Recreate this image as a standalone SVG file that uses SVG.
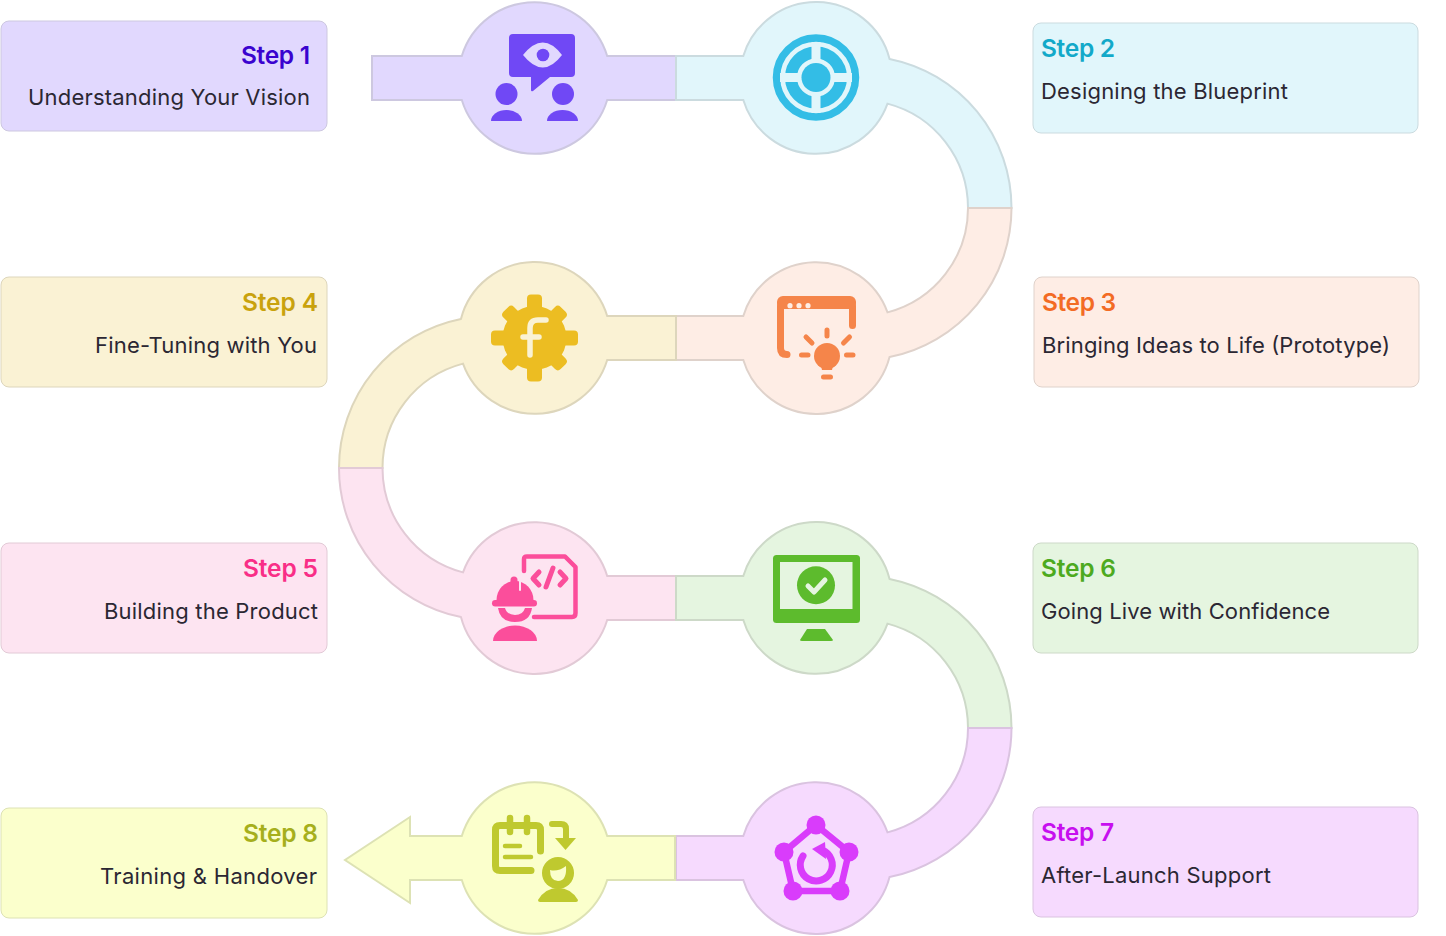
<svg xmlns="http://www.w3.org/2000/svg" width="1446" height="936" viewBox="0 0 1446 936">
<style>
.t{font-family:"Inter","Noto Sans","Liberation Sans",sans-serif;font-size:24.5px;font-weight:600}
.s{font-family:"Inter","Noto Sans","Liberation Sans",sans-serif;font-size:22px;font-weight:400;fill:#2b2733}
.band{stroke-width:2;stroke-linejoin:miter}
.card{stroke-width:1}
.ln{fill:none;stroke-linecap:round;stroke-linejoin:round}
</style>
<rect width="1446" height="936" fill="#fff"/>
<g id="connectors">
<path id="band-1" class="band" fill="#E1D8FE" stroke="#CDC8E0" d="M372,56 L461.8,56 A76,76 0 0 1 607.2,56 L676,56 L676,100 L607.2,100 A76,76 0 0 1 461.8,100 L372,100 Z"/>
<path id="band-2" class="band" fill="#E1F6FB" stroke="#CBDBDF" d="M676,56 L743.3,56 A76,76 0 0 1 889.56,58.9 A152,152 0 0 1 1011.500,208 L968,208 A108,108 0 0 0 887.5,103.6 A76,76 0 0 1 743.3,100 L676,100 Z"/>
<path id="band-3" class="band" fill="#FEEDE5" stroke="#DFD2CB" d="M676,316 L743.3,316 A76,76 0 0 1 887.5,312.4 A108,108 0 0 0 968,208 L1011.500,208 A152,152 0 0 1 889.56,357.1 A76,76 0 0 1 743.3,360 L676,360 Z"/>
<path id="band-4" class="band" fill="#FAF2D4" stroke="#DDD6BC" d="M676,316 L607.2,316 A76,76 0 0 0 460.94,318.9 A152,152 0 0 0 339,468 L382.5,468 A108,108 0 0 1 463,363.6 A76,76 0 0 0 607.2,360 L676,360 Z"/>
<path id="band-5" class="band" fill="#FDE4F1" stroke="#E2CAD6" d="M676,576 L607.2,576 A76,76 0 0 0 463,572.4 A108,108 0 0 1 382.5,468 L339,468 A152,152 0 0 0 460.94,617.1 A76,76 0 0 0 607.2,620 L676,620 Z"/>
<path id="band-6" class="band" fill="#E5F5E0" stroke="#CDD9C8" d="M676,576 L743.3,576 A76,76 0 0 1 889.56,578.9 A152,152 0 0 1 1011.500,728 L968,728 A108,108 0 0 0 887.5,623.6 A76,76 0 0 1 743.3,620 L676,620 Z"/>
<path id="band-7" class="band" fill="#F6DAFE" stroke="#DAC3E0" d="M676,836 L743.3,836 A76,76 0 0 1 887.5,832.4 A108,108 0 0 0 968,728 L1011.500,728 A152,152 0 0 1 889.56,877.1 A76,76 0 0 1 743.3,880 L676,880 Z"/>
<path id="band-8" class="band" fill="#FBFFCC" stroke="#DDE2B4" d="M675,836 L607.2,836 A76,76 0 0 0 461.8,836 L410,836 L410,817 L345,860 L410,903 L410,880 L461.8,880 A76,76 0 0 0 607.2,880 L675,880 Z"/>
</g>

<g id="step-1">
<rect class="card" x="1" y="21" width="326" height="110" rx="8" fill="#E1D8FE" stroke="#CDC8E0"/>
<text class="t" x="241" y="64" fill="#3A03CF" textLength="69">Step 1</text>
<text class="s" x="28" y="105" textLength="282">Understanding Your Vision</text>
<g id="icon-1" fill="#7048F5">
<path d="M513,34 H571 Q575,34 575,38 V73 Q575,77 571,77 H550 L533,91 Q531,92 531,90 V77 H513 Q509,77 509,73 V38 Q509,34 513,34 Z"/>
<path d="M523,55 Q543,30 562,55 Q543,80 523,55 Z" fill="#E1D8FE"/>
<circle cx="543" cy="55" r="6.3"/>
<circle cx="506.5" cy="94" r="11"/><circle cx="563" cy="94" r="11"/>
<path d="M491,121 A15.5,11 0 0 1 522,121 Z"/><path d="M547,121 A15.5,11 0 0 1 578,121 Z"/>
</g>
</g>

<g id="step-2">
<rect class="card" x="1033" y="23" width="385" height="110" rx="8" fill="#E1F6FB" stroke="#CBDBDF"/>
<text class="t" x="1041" y="57" fill="#12A9C9" textLength="74">Step 2</text>
<text class="s" x="1041" y="99" textLength="247">Designing the Blueprint</text>
<g id="icon-2">
<circle cx="816" cy="77.5" r="39.5" fill="none" stroke="#33BDE6" stroke-width="7.5"/>
<circle cx="816" cy="77.5" r="25" fill="none" stroke="#33BDE6" stroke-width="12"/>
<path d="M816,42 V113 M780,77.5 H852" stroke="#E1F6FB" stroke-width="9" fill="none"/>
<circle cx="816" cy="77.5" r="18.5" fill="#E1F6FB"/>
<circle cx="816" cy="77.5" r="14.5" fill="#33BDE6"/>
</g>
</g>

<g id="step-3">
<rect class="card" x="1034" y="277" width="385" height="110" rx="8" fill="#FEEDE5" stroke="#DFD2CB"/>
<text class="t" x="1042" y="311" fill="#F36B24" textLength="74">Step 3</text>
<text class="s" x="1042" y="353" textLength="348">Bringing Ideas to Life (Prototype)</text>
<g id="icon-3" fill="#F5854A">
<path d="M787,354.500 Q780.500,354.500 780.500,348 V306 Q780.500,299.500 787,299.500 H846 Q852.500,299.500 852.500,306 V325.500" fill="none" stroke="#F5854A" stroke-width="7" stroke-linecap="round"/>
<rect x="777" y="296" width="79" height="13" rx="6"/>
<circle cx="790" cy="305.700" r="2.600" fill="#FEEDE5"/><circle cx="799" cy="305.700" r="2.600" fill="#FEEDE5"/><circle cx="808" cy="305.700" r="2.600" fill="#FEEDE5"/>
<circle cx="827" cy="356" r="13"/><path d="M820,362 H834 L832,370 H822 Z"/>
<path class="ln" stroke="#F5854A" stroke-width="5" d="M823.500,377 H830.500 M827,330 V336 M806,337 L812,343 M849.500,337 L843.500,343 M801.500,355 H808 M846.500,355 H853"/>
</g>
</g>

<g id="step-4">
<rect class="card" x="1" y="277" width="326" height="110" rx="8" fill="#FAF2D4" stroke="#DDD6BC"/>
<text class="t" x="242" y="311" fill="#C9A20D" textLength="76">Step 4</text>
<text class="s" x="95" y="353" textLength="222">Fine-Tuning with You</text>
<g id="icon-4" fill="#ECBD22">
<circle cx="534.500" cy="338" r="32"/>
<g id="gear-teeth">
<rect x="527" y="294.500" width="15" height="87" rx="4"/>
<rect x="491" y="330.500" width="87" height="15" rx="4"/>
<rect x="527" y="297.500" width="15" height="81" rx="4" transform="rotate(45 534.500 338)"/>
<rect x="527" y="297.500" width="15" height="81" rx="4" transform="rotate(-45 534.500 338)"/>
</g>
<path class="ln" stroke="#FAF2D4" stroke-width="5.500" d="M530,355 V328 Q530,320 538,320 H546 M523,337 H539"/>
</g>
</g>

<g id="step-5">
<rect class="card" x="1" y="543" width="326" height="110" rx="8" fill="#FDE4F1" stroke="#E2CAD6"/>
<text class="t" x="243" y="577" fill="#F92E87" textLength="75">Step 5</text>
<text class="s" x="104" y="619" textLength="214">Building the Product</text>
<g id="icon-5" fill="#FB4E9B">
<path class="ln" stroke="#FB4E9B" stroke-width="4.500" d="M524,571 V559 Q524,556.500 527,556.500 H565 L575.500,567 V613 Q575.500,617 572,617 H534"/>
<path class="ln" stroke="#FB4E9B" stroke-width="5" d="M539,572 L533,578.500 L539,585 M553,568 L546,587 M560,572 L566,578.500 L560,585"/>
<path d="M496.500,600 A18.500,19 0 0 1 533.500,600 Z"/>
<path class="ln" stroke="#FB4E9B" stroke-width="7" d="M514,580 V590"/>
<path class="ln" stroke="#FDE4F1" stroke-width="2" d="M520,578 V590"/>
<rect x="492" y="600" width="45" height="6.500" rx="3.200"/>
<path d="M498,608 H505 Q507,615 515,615 Q523,615 525,608 H532 Q530,622 515,622 Q500,622 498,608 Z"/>
<path d="M493,641 A22,15.500 0 0 1 537,641 Z"/>
</g>
</g>

<g id="step-6">
<rect class="card" x="1033" y="543" width="385" height="110" rx="8" fill="#E5F5E0" stroke="#CDD9C8"/>
<text class="t" x="1041" y="577" fill="#4DAA1F" textLength="75">Step 6</text>
<text class="s" x="1041" y="619" textLength="289">Going Live with Confidence</text>
<g id="icon-6" fill="#5DBB2D">
<rect x="773" y="555" width="87" height="68" rx="3.500"/>
<rect x="780" y="562" width="72.500" height="47" fill="#E5F5E0"/>
<circle cx="816" cy="585.300" r="19"/>
<path class="ln" stroke="#E5F5E0" stroke-width="5" d="M808,586 L814,592 L825,580"/>
<path d="M807,629 H825 L833,640 Q833,641 831,641 H802 Q800,641 800,640 Z"/>
</g>
</g>

<g id="step-7">
<rect class="card" x="1033" y="807" width="385" height="110" rx="8" fill="#F6DAFE" stroke="#DAC3E0"/>
<text class="t" x="1041" y="841" fill="#C70FEF" textLength="73">Step 7</text>
<text class="s" x="1041" y="883" textLength="230">After-Launch Support</text>
<g id="icon-7" fill="#D93CFB">
<path class="ln" stroke="#D93CFB" stroke-width="6.500" d="M816,825 L849,852 L840,891 H793 L784,852 Z"/>
<circle cx="816" cy="825" r="9.500"/><circle cx="849" cy="852" r="9.500"/><circle cx="840" cy="891" r="9.500"/><circle cx="793" cy="891" r="9.500"/><circle cx="784" cy="852" r="9.500"/>
<path class="ln" stroke="#D93CFB" stroke-width="7" d="M803,856 A16,16 0 1 0 822,850"/>
<path d="M825,842 L826,859 L812,849 Z"/>
</g>
</g>

<g id="step-8">
<rect class="card" x="1" y="808" width="326" height="110" rx="8" fill="#FBFFCC" stroke="#DDE2B4"/>
<text class="t" x="243" y="842" fill="#A6AF1C" textLength="75">Step 8</text>
<text class="s" x="100" y="884" textLength="217">Training &amp; Handover</text>
<g id="icon-8" fill="#BFC92F">
<path class="ln" stroke="#BFC92F" stroke-width="7" d="M531,870.500 H500 Q495.500,870.500 495.500,866 V830 Q495.500,825.500 500,825.500 H536 Q540.500,825.500 540.500,830 V851"/>
<path class="ln" stroke="#BFC92F" stroke-width="6.500" d="M510,818 V832 M527,818 V832"/>
<path class="ln" stroke="#BFC92F" stroke-width="4.500" d="M505,846 H520 M505,857 H531"/>
<path class="ln" stroke="#BFC92F" stroke-width="6" d="M552,824 H561 Q566,824 566,829 V840"/>
<path d="M555,838 H576 L565.500,850 Z"/>
<circle cx="558" cy="873" r="16"/>
<path d="M550,870 Q558,872 566,866 Q567,881 558,881 Q550,881 550,870 Z" fill="#FBFFCC"/>
<path d="M538,900 Q545,888 558,888 Q571,888 578,900 Q578,902 576,902 H540 Q538,902 538,900 Z"/>
</g>
</g>
</svg>
